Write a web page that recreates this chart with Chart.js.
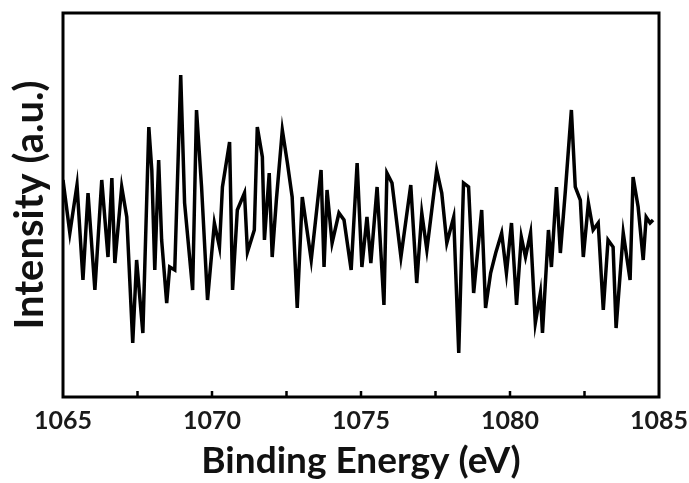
<!DOCTYPE html>
<html>
<head>
<meta charset="utf-8">
<script src="https://cdn.jsdelivr.net/npm/chart.js@4/dist/chart.umd.min.js"></script>
<style>
  html, body { margin: 0; padding: 0; background: #fff; }
  #wrap { width: 689px; height: 483px; }
</style>
</head>
<body>
<div id="wrap"><canvas id="c"></canvas></div>
<script>
// binding energy (eV)
var energy = [
  1065.00, 1065.23, 1065.47, 1065.67, 1065.84, 1066.07, 1066.30, 1066.51, 1066.64, 1066.74,
  1066.97, 1067.14, 1067.34, 1067.47, 1067.68, 1067.88, 1067.98, 1068.08, 1068.21, 1068.31,
  1068.48, 1068.58, 1068.75, 1068.95, 1069.08, 1069.35, 1069.48, 1069.65, 1069.85, 1070.08,
  1070.25, 1070.35, 1070.59, 1070.69, 1070.85, 1071.09, 1071.19, 1071.42, 1071.52, 1071.69,
  1071.76, 1071.92, 1072.02, 1072.16, 1072.36, 1072.53, 1072.69, 1072.86, 1073.03, 1073.33,
  1073.66, 1073.76, 1073.86, 1074.03, 1074.26, 1074.43, 1074.67, 1074.87, 1075.03, 1075.20,
  1075.33, 1075.54, 1075.77, 1075.87, 1076.04, 1076.34, 1076.67, 1076.87, 1077.04, 1077.21,
  1077.54, 1077.71, 1077.88, 1078.11, 1078.28, 1078.44, 1078.61, 1078.78, 1079.05, 1079.18,
  1079.35, 1079.52, 1079.72, 1079.88, 1080.05, 1080.22, 1080.38, 1080.52, 1080.69, 1080.85,
  1081.02, 1081.09, 1081.29, 1081.39, 1081.56, 1081.69, 1081.86, 1082.06, 1082.19, 1082.36,
  1082.46, 1082.63, 1082.79, 1082.96, 1083.13, 1083.29, 1083.46, 1083.56, 1083.80, 1084.03,
  1084.13, 1084.30, 1084.47, 1084.57, 1084.70, 1084.80
];
// intensity (a.u.)
var intensity = [
  217, 164, 212, 117, 204, 107, 217, 140, 219, 134,
  210, 180,  54, 137,  64, 270, 227, 127, 237, 157,
   94, 130, 127, 322, 194, 107, 287, 210,  97, 174,
  150, 210, 255, 107, 187, 204, 145, 167, 270, 240,
  157, 224, 140, 197, 267, 234, 200,  89, 200, 137,
  227, 130, 207, 154, 184, 177, 127, 234, 130, 180,
  134, 210,  92, 224, 214, 140, 212, 114, 184, 147,
  227, 204, 154, 180,  44, 214, 210, 104, 187,  89,
  124, 144, 164, 124, 174,  92, 160, 140, 164,  74,
  104,  64, 167, 130, 210, 144, 207, 287, 210, 197,
  140, 194, 167, 174,  87, 157, 150,  69, 164, 117,
  220, 190, 137, 180, 174, 177
];
var xMin = 1065, xMax = 1085, xStep = 2.5;
var yMin = 0, yMax = 384;

var points = energy.map(function (e, i) { return { x: e, y: intensity[i] }; });

var FONT = "Lato, 'Open Sans', sans-serif";

// frame around the plot and inward ticks on the bottom axis
var frame = {
  id: 'frame',
  afterDraw: function (chart) {
    var ctx = chart.ctx, a = chart.chartArea, sx = chart.scales.x;
    ctx.save();
    ctx.strokeStyle = '#000';
    ctx.lineWidth = 3;
    ctx.strokeRect(a.left, a.top, a.right - a.left, a.bottom - a.top);
    ctx.lineWidth = 2.5;
    sx.ticks.forEach(function (t) {
      var px = sx.getPixelForValue(t.value);
      if (t.value <= xMin || t.value >= xMax) return;
      ctx.beginPath();
      ctx.moveTo(px, a.bottom);
      ctx.lineTo(px, a.bottom - 6);
      ctx.stroke();
    });
    ctx.restore();
  }
};

new Chart(document.getElementById('c'), {
  type: 'line',
  data: {
    datasets: [{
      data: points,
      borderColor: '#000',
      borderWidth: 3.5,
      pointRadius: 0,
      tension: 0,
      fill: false
    }]
  },
  options: {
    responsive: true,
    maintainAspectRatio: false,
    animation: false,
    layout: { padding: { left: 0, top: 13, right: 30, bottom: 0 } },
    plugins: { legend: { display: false }, tooltip: { enabled: false } },
    scales: {
      x: {
        type: 'linear',
        min: xMin, max: xMax,
        afterFit: function (s) { s.height = 86; s.paddingLeft = 0; s.paddingRight = 0; },
        ticks: {
          stepSize: xStep,
          autoSkip: false,
          maxRotation: 0,
          padding: 9,
          color: '#1a1a1a',
          font: { family: FONT, size: 25, weight: 'bold' },
          callback: function (v) { return v % 5 === 0 ? String(v) : ''; }
        },
        grid: { display: false, drawTicks: false },
        border: { display: false },
        title: {
          display: true,
          text: 'Binding Energy (eV)',
          color: '#111',
          padding: { top: 0, bottom: 0 },
          font: { family: FONT, size: 37, weight: 'bold' }
        }
      },
      y: {
        min: yMin, max: yMax,
        afterFit: function (s) { s.width = 63; },
        ticks: { display: false },
        grid: { display: false, drawTicks: false },
        border: { display: false },
        title: {
          display: true,
          text: 'Intensity (a.u.)',
          color: '#111',
          padding: { top: 6, bottom: 0 },
          font: { family: FONT, size: 40, weight: 'bold' }
        }
      }
    }
  },
  plugins: [frame]
});
</script>
</body>
</html>
